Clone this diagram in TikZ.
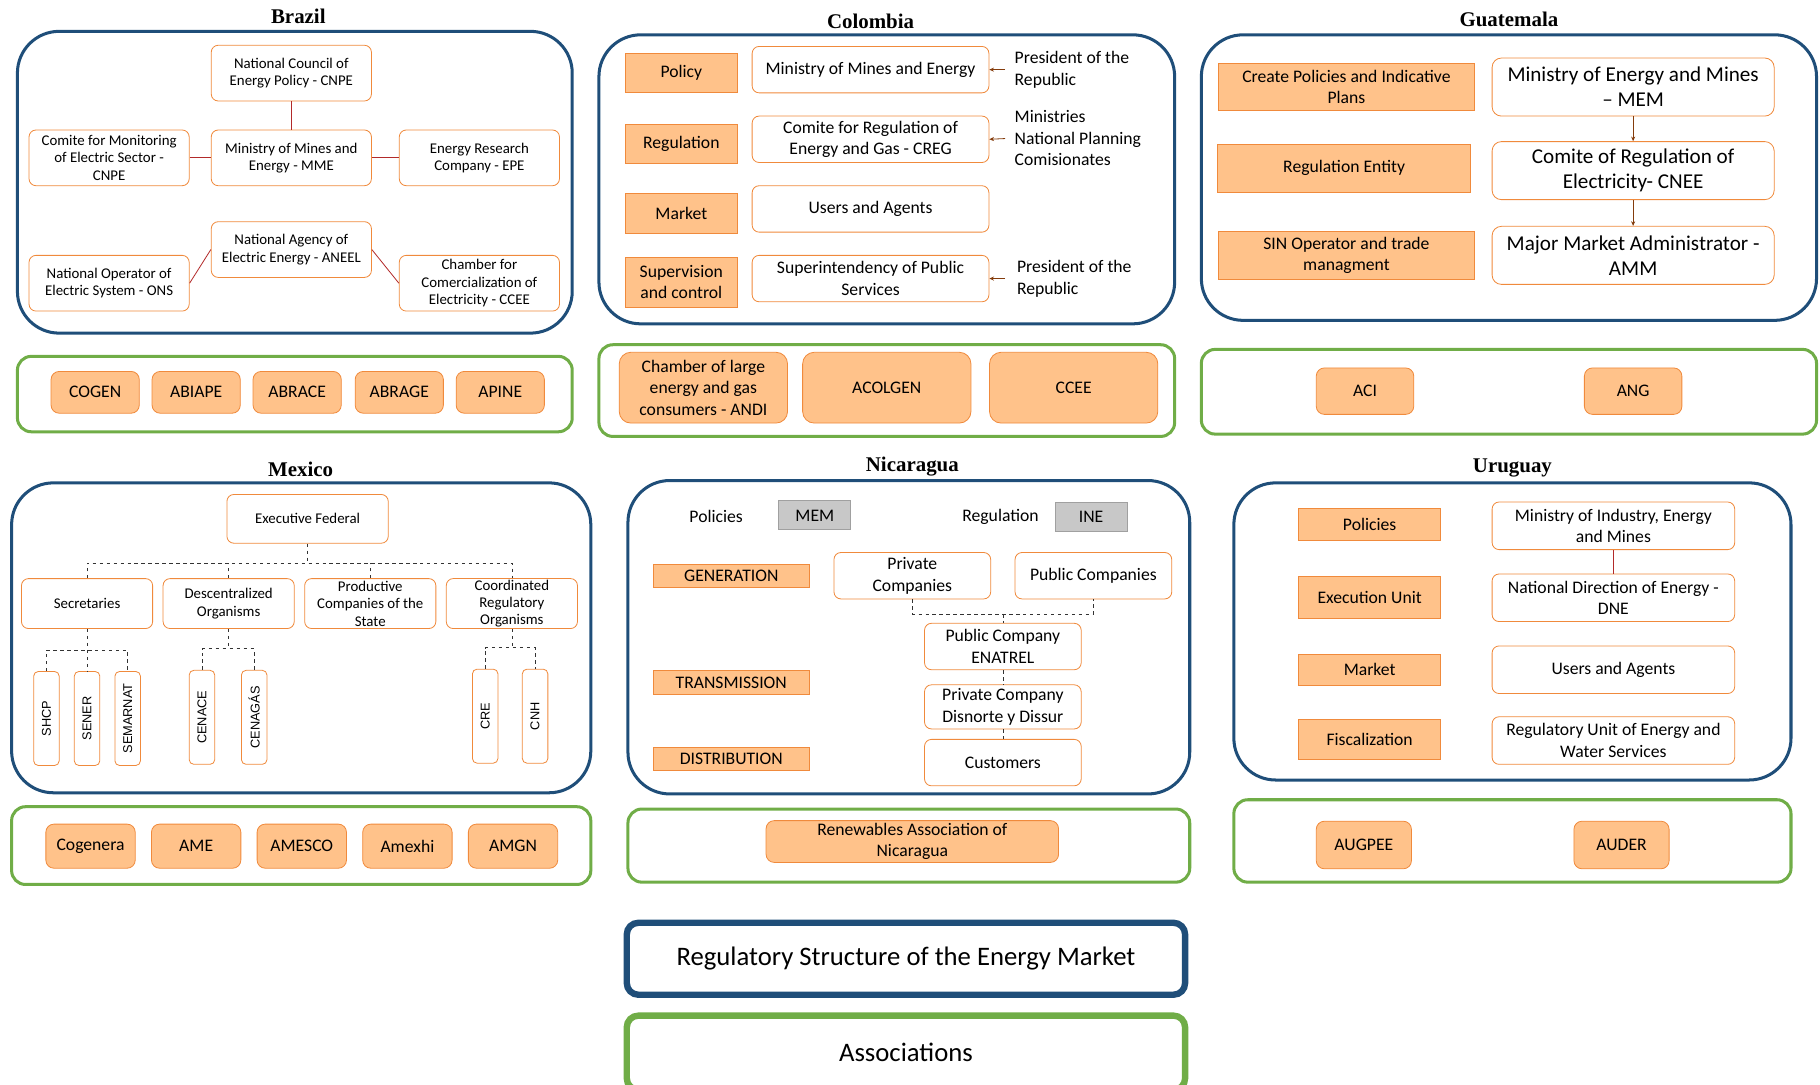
\documentclass[tikz,border=0pt]{standalone}
\usepackage{fontspec}
\setmainfont{Carlito}
\newfontfamily\titlefont{Liberation Serif}
\newfontfamily\vertfont{Liberation Sans}
\usetikzlibrary{arrows.meta}

\definecolor{panelblue}{HTML}{1F4E79}
\definecolor{assocgreen}{HTML}{70AD47}
\definecolor{orangefill}{HTML}{FFC28A}
\definecolor{orangeline}{HTML}{F08A3C}
\definecolor{linkred}{HTML}{B22A2A}
\definecolor{arrowbrown}{HTML}{843C0C}
\definecolor{grayfill}{HTML}{C8C8C8}
\definecolor{grayline}{HTML}{A0A0A0}

\tikzset{
  txtS/.style={font=\fontsize{12.8}{15}\selectfont},
  txtM/.style={font=\fontsize{15.2}{18.5}\selectfont},
  txtL/.style={font=\fontsize{18.2}{21.5}\selectfont},
  panel/.style={draw=panelblue, line width=2.6pt, rounded corners=36pt},
  assocpanel/.style={draw=assocgreen, line width=2.6pt, rounded corners=12pt},
  orgbox/.style={draw=orangeline, fill=white, line width=0.7pt, rounded corners=6pt,
    align=center, inner sep=1pt},
  rolebox/.style={draw=orangeline, fill=orangefill, line width=0.7pt, align=center, inner sep=1pt},
  assocbox/.style={rolebox, rounded corners=7pt},
  graybox/.style={draw=grayline, fill=grayfill, line width=0.7pt, inner sep=1pt},
  countrytitle/.style={font=\titlefont\fontsize{18}{20}\selectfont\bfseries},
  sidetext/.style={txtM, align=left, inner sep=0pt},
  redlink/.style={draw=linkred, line width=0.7pt},
  brownarrow/.style={draw=arrowbrown, line width=0.7pt, -{Stealth[length=4pt, width=3.5pt]}},
  tree/.style={draw=black!80, dashed, line width=0.6pt},
  legendbox/.style={rounded corners=10pt, line width=5.5pt, minimum width=481pt,
    font=\fontsize{23}{26}\selectfont}
}

\begin{document}
\begin{tikzpicture}[x=1pt, y=-1pt,
  brbox/.style={orgbox, txtS, minimum width=138pt, minimum height=48pt},
  brassoc/.style={assocbox, txtM, minimum width=76pt, minimum height=36pt},
  colrole/.style={rolebox, txtM, minimum width=96pt, minimum height=34pt},
  colbox/.style={orgbox, txtM, minimum width=204pt, minimum height=40pt},
  colassoc/.style={assocbox, txtM, rounded corners=10pt, minimum width=145pt, minimum height=61pt},
  gtrole/.style={rolebox, txtM, minimum width=221pt, minimum height=40pt},
  gtbox/.style={orgbox, txtL, rounded corners=8pt, minimum width=243pt, minimum height=50pt},
  gtassoc/.style={assocbox, txtM, minimum width=84pt, minimum height=40pt},
  mxbox/.style={orgbox, txtS, minimum width=113pt, minimum height=43pt},
  vbox/.style={orgbox, font=\vertfont\fontsize{11}{13}\selectfont, rotate=90,
    rounded corners=4pt, minimum width=81pt, minimum height=22pt},
  mxassoc/.style={assocbox, txtM, minimum width=77pt, minimum height=38pt},
  nirole/.style={rolebox, txtM, minimum width=135pt, minimum height=20pt},
  nibox/.style={orgbox, txtM, minimum width=135pt, minimum height=40pt},
  urrole/.style={rolebox, txtM, minimum width=122pt, minimum height=28pt},
  urbox/.style={orgbox, txtM, minimum width=209pt, minimum height=41pt},
  urassoc/.style={assocbox, txtM, minimum width=82pt, minimum height=41pt}]

  \useasboundingbox (0,0) rectangle (1568,934);

  % ---------------- Brazil
  \node[countrytitle] (brtitle) at (257,14) {Brazil};
  \draw[panel] (15,27) rectangle (493,287);
  \node[brbox] (cnpe) at (251,63) {National Council of\\Energy Policy - CNPE};
  \node[brbox] (mme) at (251,136) {Ministry of Mines and\\Energy - MME};
  \node[brbox] (cmse) at (94,136) {Comite for Monitoring\\of Electric Sector -\\CNPE};
  \node[brbox] (epe) at (413,136) {Energy Research\\Company - EPE};
  \node[brbox] (aneel) at (251,215) {National Agency of\\Electric Energy - ANEEL};
  \node[brbox] (ons) at (94,244) {National Operator of\\Electric System - ONS};
  \node[brbox] (ccee) at (413,244) {Chamber for\\Comercialization of\\Electricity - CCEE};
  \draw[redlink] (cnpe) -- (mme);
  \draw[redlink] (cmse) -- (mme);
  \draw[redlink] (mme) -- (epe);
  \draw[redlink] (aneel.west) -- (ons.east);
  \draw[redlink] (aneel.east) -- (ccee.west);
  % associations
  \draw[assocpanel] (15,307) rectangle (493,372);
  \foreach \name/\x in {COGEN/82, ABIAPE/169, ABRACE/256, ABRAGE/344, APINE/431} {
    \node[brassoc] (br\name) at (\x,338) {\name};
  }

  % ---------------- Colombia
  \node[countrytitle] (coltitle) at (750,18) {Colombia};
  \draw[panel] (516,30) rectangle (1012,279);
  \node[colrole] (colpol) at (587,63) {Policy};
  \node[colrole] (colreg) at (587,124) {Regulation};
  \node[colrole] (colmar) at (587,184) {Market};
  \node[colrole, minimum height=43pt] (colsupr) at (587,243) {Supervision\\and control};
  \node[colbox] (colmin) at (750,60) {Ministry of Mines and Energy};
  \node[colbox] (colcreg) at (750,120) {Comite for Regulation of\\Energy and Gas - CREG};
  \node[colbox] (colusers) at (750,180) {Users and Agents};
  \node[colbox] (colsup) at (750,240) {Superintendency of Public\\Services};
  \node[sidetext, anchor=west] (colpres) at (874,60) {President of the\\Republic};
  \node[sidetext, anchor=west] (colmins) at (874,119) {Ministries\\National Planning\\Comisionates};
  \node[sidetext, anchor=west] (colpresb) at (876,240) {President of the\\Republic};
  \draw[brownarrow, shorten <=8pt] (colpres.west) -- (colmin.east);
  \draw[brownarrow, shorten <=8pt] (colmins.west) -- (colcreg.east);
  \draw[brownarrow, shorten <=10pt] (colpresb.west) -- (colsup.east);
  % associations
  \draw[assocpanel] (516,297) rectangle (1012,376);
  \node[colassoc] (colandi) at (606,334) {Chamber of large\\energy and gas\\consumers - ANDI};
  \node[colassoc] (colacolgen) at (764,334) {ACOLGEN};
  \node[colassoc] (colccee) at (925,334) {CCEE};

  % ---------------- Guatemala
  \node[countrytitle] (gttitle) at (1300,17) {Guatemala};
  \draw[panel] (1035,30) rectangle (1565,276);
  \node[gtrole] (gtpol) at (1160,75) {Create Policies and Indicative\\Plans};
  \node[gtrole, minimum width=218pt, minimum height=42pt] (gtreg) at (1158,145) {Regulation Entity};
  \node[gtrole, minimum height=42pt] (gtsin) at (1160,220) {SIN Operator and trade\\managment};
  \node[gtbox] (gtmem) at (1407,75) {Ministry of Energy and Mines\\– MEM};
  \node[gtbox] (gtcnee) at (1407,147) {Comite of Regulation of\\Electricity- CNEE};
  \node[gtbox] (gtamm) at (1407,220) {Major Market Administrator -\\AMM};
  \draw[brownarrow] (gtmem) -- (gtcnee);
  \draw[brownarrow] (gtcnee) -- (gtamm);
  % associations
  \draw[assocpanel] (1035,301) rectangle (1565,374);
  \node[gtassoc] (gtaci) at (1176,337) {ACI};
  \node[gtassoc] (gtang) at (1407,337) {ANG};

  % ---------------- Mexico
  \node[countrytitle] (mxtitle) at (259,404) {Mexico};
  \draw[panel] (10,416) rectangle (509,683);
  \node[orgbox, txtS, minimum width=139pt, minimum height=42pt] (mxef) at (265,447) {Executive Federal};
  \node[mxbox] (mxsec) at (75,520) {Secretaries};
  \node[mxbox] (mxdec) at (197,520) {Descentralized\\Organisms};
  \node[mxbox] (mxpro) at (319,520) {Productive\\Companies of the\\State};
  \node[mxbox] (mxcor) at (441,520) {Coordinated\\Regulatory\\Organisms};
  \node[vbox] (shcp) at (40,619) {SHCP};
  \node[vbox] (sener) at (75,619) {SENER};
  \node[vbox] (semarnat) at (110,619) {SEMARNAT};
  \node[vbox] (cenace) at (174,618) {CENACE};
  \node[vbox] (cenagas) at (219,618) {CENAGÁS};
  \node[vbox] (cre) at (418,617) {CRE};
  \node[vbox] (cnh) at (461,617) {CNH};
  % dashed tree
  \coordinate (mxbar) at (265,485);
  \coordinate (secbar) at (75,560);
  \coordinate (decbar) at (197,559);
  \coordinate (corbar) at (441,558);
  \draw[tree] (mxef.south) -- (mxbar);
  \draw[tree] (mxsec.north) |- (mxbar) -| (mxcor.north);
  \draw[tree] (mxdec.north) -- (mxdec.north |- mxbar);
  \draw[tree] (mxpro.north) -- (mxpro.north |- mxbar);
  \draw[tree] (mxsec.south) -- (sener.east);
  \draw[tree] (shcp.east) |- (secbar) -| (semarnat.east);
  \draw[tree] (mxdec.south) -- (decbar);
  \draw[tree] (cenace.east) |- (decbar) -| (cenagas.east);
  \draw[tree] (mxcor.south) -- (corbar);
  \draw[tree] (cre.east) |- (corbar) -| (cnh.east);
  % associations
  \draw[assocpanel] (10,695) rectangle (509,762);
  \foreach \name/\x in {Cogenera/78, AME/169, AMESCO/260, Amexhi/351, AMGN/442} {
    \node[mxassoc] (mx\name) at (\x,729) {\name};
  }

  % ---------------- Nicaragua
  \node[countrytitle] (nititle) at (786,402) {Nicaragua};
  \draw[panel] (541,414) rectangle (1025,684);
  \node[txtM] (nipol) at (617,445) {Policies};
  \node[graybox, txtM, minimum width=62pt, minimum height=25pt] (nimem) at (702,444) {MEM};
  \node[txtM] (nireg) at (862,445) {Regulation};
  \node[graybox, txtM, minimum width=62pt, minimum height=25pt] (niine) at (940,445) {INE};
  \node[nirole] (nigen) at (630,496) {GENERATION};
  \node[nirole] (nitra) at (630,588) {TRANSMISSION};
  \node[nirole] (nidis) at (630,654) {DISTRIBUTION};
  \node[nibox] (nipriv) at (786,496) {Private\\Companies};
  \node[nibox] (nipub) at (942,496) {Public Companies};
  \node[nibox] (nienatrel) at (864,557) {Public Company\\ENATREL};
  \node[nibox, minimum height=38pt] (nidisnorte) at (864,609) {Private Company\\Disnorte y Dissur};
  \node[nibox] (nicust) at (864,657) {Customers};
  \coordinate (nibar) at (864,529);
  \draw[tree] (nipriv.south) |- (nibar) -| (nipub.south);
  \draw[tree] (nibar) -- (nienatrel.north);
  \draw[tree] (nienatrel) -- (nidisnorte);
  \draw[tree] (nidisnorte) -- (nicust);
  % associations
  \draw[assocpanel] (541,697) rectangle (1025,760);
  \node[assocbox, txtM, minimum width=252pt, minimum height=36pt] (niren) at (786,725) {Renewables Association of\\Nicaragua};

  % ---------------- Uruguay
  \node[countrytitle] (urtitle) at (1303,403) {Uruguay};
  \draw[panel] (1063,416) rectangle (1543,672);
  \node[urrole] (urpol) at (1180,452) {Policies};
  \node[urrole, minimum height=36pt] (urexe) at (1180,515) {Execution Unit};
  \node[urrole, minimum height=27pt] (urmar) at (1180,577) {Market};
  \node[urrole, minimum height=34pt] (urfis) at (1180,637) {Fiscalization};
  \node[urbox] (urmin) at (1390,453) {Ministry of Industry, Energy\\and Mines};
  \node[urbox] (urdne) at (1390,515) {National Direction of Energy -\\DNE};
  \node[urbox] (urusers) at (1390,577) {Users and Agents};
  \node[urbox] (urunit) at (1390,638) {Regulatory Unit of Energy and\\Water Services};
  \draw[redlink] (urmin) -- (urdne);
  % associations
  \draw[assocpanel] (1063,689) rectangle (1543,760);
  \node[urassoc] (uraugpee) at (1175,728) {AUGPEE};
  \node[urassoc] (urauder) at (1397,728) {AUDER};

  % ---------------- legend
  \node[legendbox, draw=panelblue, minimum height=62pt] (legreg) at (780.5,826) {Regulatory Structure of the Energy Market};
  \node[legendbox, draw=assocgreen, minimum height=64pt] (legassoc) at (780.5,907) {Associations};
\end{tikzpicture}
\end{document}
